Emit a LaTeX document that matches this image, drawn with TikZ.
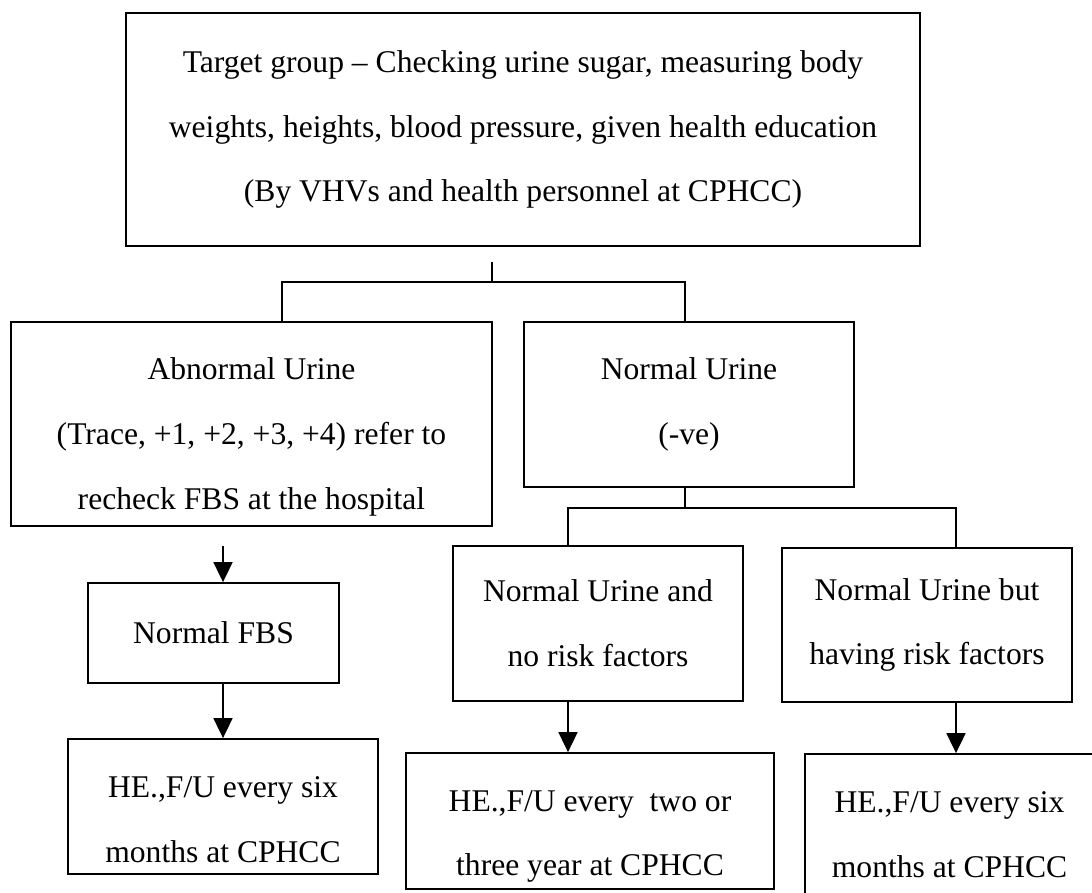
\documentclass[tikz,border=0pt]{standalone}
\usepackage{fontspec}
\setmainfont{Liberation Serif}
\usetikzlibrary{arrows.meta}

% strut that pushes the text of a box down
\newcommand{\dropline}[1]{\rule{0pt}{#1}}

\begin{document}
\begin{tikzpicture}[x=0.5pt,y=-0.5pt,
  box/.style={draw,line width=0.9pt,inner sep=0pt,align=center,
    font=\fontsize{15.8}{32.4}\selectfont},
  link/.style={line width=0.9pt},
  arr/.style={line width=0.9pt,-{Triangle[length=10pt,width=9.5pt]}}]
\useasboundingbox (0,0) rectangle (1092,893);

\node[box,minimum width=397pt,minimum height=116.5pt] (target) at (523,129.5)
  {Target group -- Checking urine sugar, measuring body\\weights, heights, blood pressure, given health education\\(By VHVs and health personnel at CPHCC)};

\node[box,minimum width=240.5pt,minimum height=102pt] (abn) at (251.5,424)
  {\dropline{24pt}Abnormal Urine\\(Trace, +1, +2, +3, +4) refer to\\recheck FBS at the hospital};
\node[box,minimum width=165pt,minimum height=82.5pt] (norm) at (689,404.5)
  {Normal Urine\\(-ve)};

\node[box,minimum width=125.5pt,minimum height=50pt] (fbs) at (213.5,633) {Normal FBS};
\node[box,minimum width=145pt,minimum height=77.5pt] (kid1) at (598,623.5)
  {Normal Urine and\\no risk factors};
\node[box,minimum width=145pt,minimum height=77pt] (kid2) at (927,625)
  {Normal Urine but\\having risk factors};

\node[box,minimum width=155pt,minimum height=67.5pt] (he1) at (223,806.5)
  {\dropline{24pt}HE.,F/U every six\\months at CPHCC};
\node[box,minimum width=184pt,minimum height=68pt] (he2) at (590,821)
  {\dropline{26pt}HE.,F/U every\ \ two or\\three year at CPHCC};
\node[box,minimum width=144.5pt,minimum height=73pt] (he3) at (949.5,827)
  {\dropline{18pt}HE.,F/U every six\\months at CPHCC};

\coordinate (stub) at (492,262);
\coordinate (j1) at (492,282);
\coordinate (b1) at (282,282);
\coordinate (b2) at (685,282);
\coordinate (c1) at (568,508);
\coordinate (c2) at (956,508);
\coordinate (a1) at (223,546);

\draw[link] (stub) -- (j1);
\draw[link] (b1 |- abn.north) -- (b1) -- (b2) -- (b2 |- norm.north);
\draw[link] (b2 |- norm.south) -- (b2 |- c1);
\draw[link] (c1 |- kid1.north) -- (c1) -- (c2) -- (c2 |- kid2.north);

\draw[arr] (a1) -- (a1 |- fbs.north);
\draw[arr] (a1 |- fbs.south) -- (a1 |- he1.north);
\draw[arr] (c1 |- kid1.south) -- (c1 |- he2.north);
\draw[arr] (c2 |- kid2.south) -- (c2 |- he3.north);
\end{tikzpicture}
\end{document}
